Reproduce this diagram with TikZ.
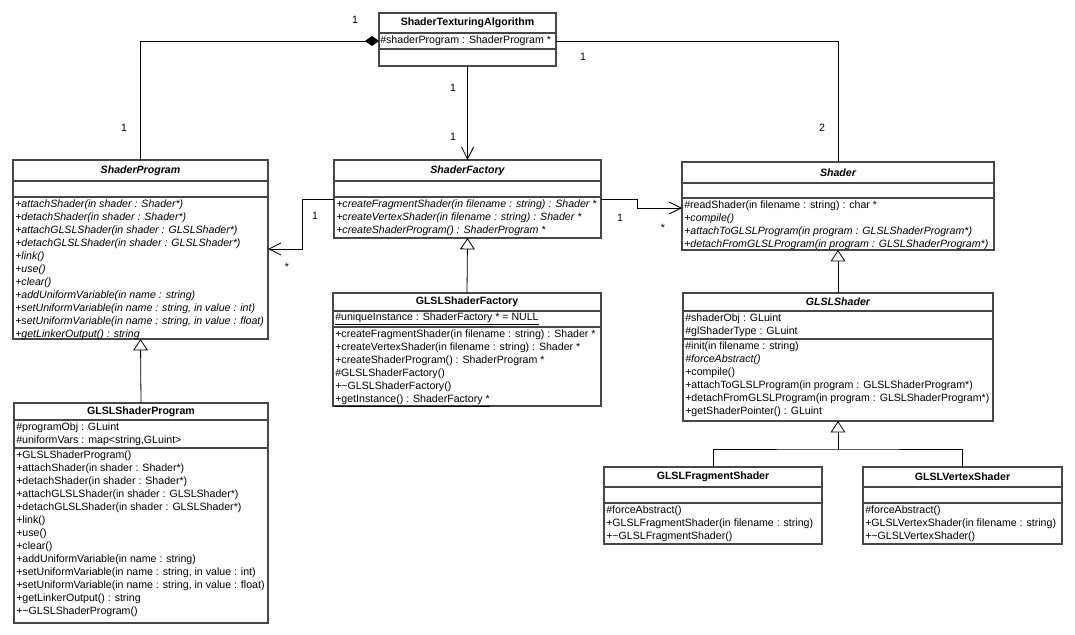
\documentclass[tikz,border=0pt]{standalone}
\usepackage{fontspec}
\setmainfont{Liberation Sans}
\usetikzlibrary{arrows.meta}
\newcommand\umlfont{\fontsize{7.95pt}{9.75pt}\selectfont}
\newcommand\mkbox[5]{\node[cls, minimum width={(#4-#2)*0.75pt}, minimum height={(#5-#3)*0.75pt}] (#1) at (#2,#3) {};}
\tikzset{
  cls/.style={draw=black!72, line width=0.95pt, inner sep=0pt, outer sep=0pt, anchor=north west, fill=white},
  divl/.style={draw=black!72, line width=0.95pt},
  ttl/.style={inner sep=0pt, font=\umlfont\bfseries},
  ttli/.style={inner sep=0pt, font=\umlfont\bfseries\itshape},
  txt/.style={inner sep=0pt, anchor=north west, align=left, font=\umlfont},
  txti/.style={inner sep=0pt, anchor=north west, align=left, font=\umlfont\itshape},
  assoc/.style={draw=black, line width=0.6pt},
  barb/.style={assoc, -{Straight Barb[length=9pt, width=9pt, line width=0.6pt]}},
  gen/.style={assoc, -{Triangle[open, length=8.5pt, width=11pt, fill=white, line width=0.6pt]}},
  comp/.style={assoc, -{Diamond[length=10.5pt, width=7.5pt, fill=black]}},
  lbl/.style={inner sep=0pt, font=\umlfont},
}
\begin{document}
\begin{tikzpicture}[x=0.75pt, y=-0.75pt]
\useasboundingbox (0,0) rectangle (1075,635);

% ShaderTexturingAlgorithm
\mkbox{sta}{379}{13}{556}{66}
\draw[divl] (379,33) -- (556,33);
\draw[divl] (379,49) -- (556,49);
\node[ttl] (sta-t) at (467.5,23) {ShaderTexturingAlgorithm};
\node[txt] (sta-a) at (380,35.5) {\#shaderProgram : ShaderProgram *};

% ShaderProgram
\mkbox{sp}{13}{160}{268}{339}
\draw[divl] (13,181) -- (268,181);
\draw[divl] (13,197) -- (268,197);
\node[ttli] (sp-t) at (140.5,170.5) {ShaderProgram};
\node[txti] (sp-o) at (15,199.5) {+attachShader(in shader : Shader*)\\
+detachShader(in shader : Shader*)\\
+attachGLSLShader(in shader : GLSLShader*)\\
+detachGLSLShader(in shader : GLSLShader*)\\
+link()\\
+use()\\
+clear()\\
+addUniformVariable(in name : string)\\
+setUniformVariable(in name : string, in value : int)\\
+setUniformVariable(in name : string, in value : float)\\
+getLinkerOutput() : string};

% ShaderFactory
\mkbox{sf}{334}{160}{601}{238}
\draw[divl] (334,181) -- (601,181);
\draw[divl] (334,197) -- (601,197);
\node[ttli] (sf-t) at (467.5,170.5) {ShaderFactory};
\node[txti] (sf-o) at (336,199.5) {+createFragmentShader(in filename : string) : Shader *\\
+createVertexShader(in filename : string) : Shader *\\
+createShaderProgram() : ShaderProgram *};

% Shader
\mkbox{sh}{682}{162}{994}{250}
\draw[divl] (682,183) -- (994,183);
\draw[divl] (682,198) -- (994,198);
\node[ttli] (sh-t) at (838,172.5) {Shader};
\node[txt] (sh-o) at (684,200.5) {\#readShader(in filename : string) : char *\\
\itshape +compile()\\
\itshape +attachToGLSLProgram(in program : GLSLShaderProgram*)\\
\itshape +detachFromGLSLProgram(in program : GLSLShaderProgram*)};

% GLSLShaderFactory
\mkbox{gsf}{333}{293}{601}{406}
\draw[divl] (333,311) -- (601,311);
\draw[divl] (333,327) -- (601,327);
\node[ttl] (gsf-t) at (467,302) {GLSLShaderFactory};
\node[txt] (gsf-a) at (335,312.5) {\underline{\#uniqueInstance : ShaderFactory * = NULL}};
\node[txt] (gsf-o) at (335,329.5) {+createFragmentShader(in filename : string) : Shader *\\
+createVertexShader(in filename : string) : Shader *\\
+createShaderProgram() : ShaderProgram *\\
\#GLSLShaderFactory()\\
+\textasciitilde GLSLShaderFactory()\\
\underline{+getInstance() : ShaderFactory *}};

% GLSLShader
\mkbox{gs}{683}{293}{993}{421}
\draw[divl] (683,311) -- (993,311);
\draw[divl] (683,339) -- (993,339);
\node[ttli] (gs-t) at (838,302) {GLSLShader};
\node[txt] (gs-a) at (685,313.5) {\#shaderObj : GLuint\\
\#glShaderType : GLuint};
\node[txt] (gs-o) at (685,341.5) {\#init(in filename : string)\\
\itshape \#forceAbstract()\\
+compile()\\
+attachToGLSLProgram(in program : GLSLShaderProgram*)\\
+detachFromGLSLProgram(in program : GLSLShaderProgram*)\\
+getShaderPointer() : GLuint};

% GLSLShaderProgram
\mkbox{gsp}{14}{403}{268}{623}
\draw[divl] (14,420) -- (268,420);
\draw[divl] (14,448) -- (268,448);
\node[ttl] (gsp-t) at (141,411.5) {GLSLShaderProgram};
\node[txt] (gsp-a) at (16,422.5) {\#programObj : GLuint\\
\#uniformVars : map<string,GLuint>};
\node[txt] (gsp-o) at (16,450.5) {+GLSLShaderProgram()\\
+attachShader(in shader : Shader*)\\
+detachShader(in shader : Shader*)\\
+attachGLSLShader(in shader : GLSLShader*)\\
+detachGLSLShader(in shader : GLSLShader*)\\
+link()\\
+use()\\
+clear()\\
+addUniformVariable(in name : string)\\
+setUniformVariable(in name : string, in value : int)\\
+setUniformVariable(in name : string, in value : float)\\
+getLinkerOutput() : string\\
+\textasciitilde GLSLShaderProgram()};

% GLSLFragmentShader
\mkbox{gfs}{604}{467}{822}{544}
\draw[divl] (604,487) -- (822,487);
\draw[divl] (604,503) -- (822,503);
\node[ttl] (gfs-t) at (713,477) {GLSLFragmentShader};
\node[txt] (gfs-o) at (606,505.5) {\#forceAbstract()\\
+GLSLFragmentShader(in filename : string)\\
+\textasciitilde GLSLFragmentShader()};

% GLSLVertexShader
\mkbox{gvs}{863}{467}{1062}{544}
\draw[divl] (863,487) -- (1062,487);
\draw[divl] (863,503) -- (1062,503);
\node[ttl] (gvs-t) at (962.5,477) {GLSLVertexShader};
\node[txt] (gvs-o) at (865,505.5) {\#forceAbstract()\\
+GLSLVertexShader(in filename : string)\\
+\textasciitilde GLSLVertexShader()};

% connection points
\coordinate (staL) at (379,41);
\coordinate (staR) at (556,41);
\coordinate (sfL) at (334,199);
\coordinate (sfR) at (601,199);
\coordinate (spR) at (268,249);
\coordinate (shL) at (682,208);
\coordinate (gsJ) at (838,449);

% associations
\draw[comp] (sp.north) |- (staL);
\draw[assoc] (staR) -| (sh.north);
\draw[barb] (sta.south) -- (sf.north);
\draw[barb] (sfL) -- ++(-32,0) |- (spR);
\draw[barb] (sfR) -- ++(36,0) |- (shL);

% generalizations
\draw[gen] (gsp.north) -- (sp.south);
\draw[gen] (gsf.north) -- (sf.south);
\draw[gen] (gs.north) -- (sh.south);
\draw[gen] (gsJ) -- (gs.south);
\draw[assoc] (gfs.north) |- (gsJ) -| (gvs.north);

% multiplicities
\node[lbl] (m1) at (355,20) {1};
\node[lbl] (m2) at (124,128) {1};
\node[lbl] (m3) at (583,57) {1};
\node[lbl] (m4) at (822,128) {2};
\node[lbl] (m5) at (453,88) {1};
\node[lbl] (m6) at (453,137) {1};
\node[lbl] (m7) at (315,216) {1};
\node[lbl] (m8) at (287,267) {*};
\node[lbl] (m9) at (620,218) {1};
\node[lbl] (m10) at (663,228) {*};
\end{tikzpicture}
\end{document}
